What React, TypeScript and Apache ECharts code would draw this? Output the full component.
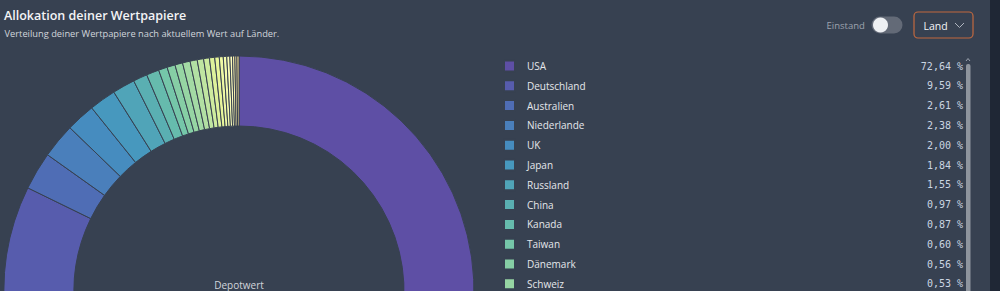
import React, { useEffect, useRef } from "react";
import * as echarts from "echarts";

const countries = [
  "USA", "Deutschland", "Australien", "Niederlande", "UK", "Japan", "Russland", "China",
  "Kanada", "Taiwan", "Dänemark", "Schweiz", "Frankreich", "Schweden", "Irland", "Spanien",
  "Südkorea", "Hongkong", "Brasilien", "Italien", "Finnland", "Indien", "Belgien", "Norwegen", "Singapur",
];
const shares = [
  72.64, 9.59, 2.61, 2.38, 2.0, 1.84, 1.55, 0.97,
  0.87, 0.6, 0.56, 0.53, 0.52, 0.49, 0.44, 0.4,
  0.36, 0.31, 0.27, 0.24, 0.21, 0.18, 0.16, 0.14, 0.14,
];
const sliceColors = [
  "#5e4fa5", "#575cad", "#4f6db5", "#4a7fbb", "#468cbf", "#4798be", "#50a4b8", "#5aafb2",
  "#66bbad", "#75c6a9", "#86cea5", "#96d5a3", "#a3daa4", "#b2e0a3", "#c0e5a1", "#ceeb9f",
  "#ddf19b", "#e8f69b", "#eef8a4", "#f4fbae", "#fafdb7", "#fffebd", "#fff6b0", "#ffeea3", "#fee796",
];
// legend rows visible in the (scrolled) list
const visibleLegendCount = 12;

const title = "Allokation deiner Wertpapiere";
const subtitle = "Verteilung deiner Wertpapiere nach aktuellem Wert auf Länder.";
const centerLabel = "Depotwert";
const toggleLabel = "Einstand";
const dropdownLabel = "Land";

const BG = "#374151";
const SANS = "'Open Sans', 'Noto Sans', sans-serif";

export default function App() {
  const ref = useRef<HTMLDivElement>(null);
  useEffect(() => {
    if (!ref.current) return;
    const chart = echarts.init(ref.current, undefined, { renderer: "svg" });
    const data = countries.map((n, i) => ({
      name: n,
      value: shares[i],
      itemStyle: { color: sliceColors[i] },
    }));
    const fmt = (v: number) => v.toFixed(2).replace(".", ",") + " %";
    chart.setOption({
      animation: false,
      backgroundColor: BG,
      legend: {
        orient: "vertical",
        left: 503,
        top: 59.5,
        padding: 0,
        itemWidth: 11,
        itemHeight: 11,
        itemGap: 6.8,
        icon: "rect",
        selectedMode: false,
        data: countries.slice(0, visibleLegendCount),
        formatter: (name: string) => {
          const i = countries.indexOf(name);
          return `{n|${name}}{v|${fmt(shares[i])}}`;
        },
        textStyle: {
          lineHeight: 12,
          rich: {
            n: {
              width: 360,
              padding: [0, 0, 0, 7],
              fontFamily: SANS,
              fontSize: 10,
              color: "#e5e7eb",
              lineHeight: 12,
            },
            v: {
              width: 76,
              align: "right",
              fontFamily: "'DejaVu Sans Mono', monospace",
              fontSize: 10,
              color: "#cbd5e1",
              lineHeight: 12,
            },
          },
        },
      },
      series: [
        {
          type: "pie",
          center: [239, 291],
          radius: [165, 235],
          startAngle: 90,
          clockwise: true,
          label: { show: false },
          labelLine: { show: false },
          emphasis: { disabled: true },
          itemStyle: { borderColor: BG, borderWidth: 1 },
          data,
        },
      ],
      graphic: [
        { type: "text", left: 4, top: 9, style: { text: title, fill: "#f3f4f6", font: `600 12.5px ${SANS}` } },
        { type: "text", left: 4.5, top: 29, style: { text: subtitle, fill: "#d1d5db", font: `9.3px ${SANS}` } },
        { type: "text", x: 239, y: 284.5, style: { text: centerLabel, fill: "#d1d5db", font: `10px ${SANS}`, textAlign: "center", textVerticalAlign: "middle" } },
        { type: "text", x: 826.5, y: 25.5, style: { text: toggleLabel, fill: "#9ca3af", font: `9.5px ${SANS}`, textVerticalAlign: "middle" } },
        { type: "rect", shape: { x: 871.5, y: 16.5, width: 31, height: 17, r: 8.5 }, style: { fill: "#636a77" } },
        { type: "circle", shape: { cx: 880.5, cy: 25, r: 7.5 }, style: { fill: "#eef0f3" } },
        { type: "rect", shape: { x: 914, y: 12, width: 59, height: 26, r: 4 }, style: { fill: BG, stroke: "#c2693f", lineWidth: 1.2 } },
        { type: "text", x: 923.5, y: 25.5, style: { text: dropdownLabel, fill: "#f3f4f6", font: `10.5px ${SANS}`, textVerticalAlign: "middle" } },
        { type: "polyline", shape: { points: [[955, 23], [959.5, 27.5], [964, 23]] }, style: { stroke: "#b0b6c0", lineWidth: 1, fill: null } },
        { type: "polyline", shape: { points: [[966, 61], [968, 58.5], [970, 61]] }, style: { stroke: "#9ca3af", lineWidth: 1, fill: null } },
        { type: "rect", shape: { x: 966, y: 64, width: 4.5, height: 400, r: 2 }, style: { fill: "#8e949d" } },
        { type: "rect", shape: { x: 990, y: 0, width: 10, height: 900 }, style: { fill: "#1f2735" } },
      ],
    });
    return () => chart.dispose();
  }, []);
  return (
    <div style={{ position: "fixed", left: 0, top: 0, width: 1000, height: 291, overflow: "hidden", background: BG }}>
      <div ref={ref} style={{ width: 1000, height: 900 }} />
    </div>
  );
}
